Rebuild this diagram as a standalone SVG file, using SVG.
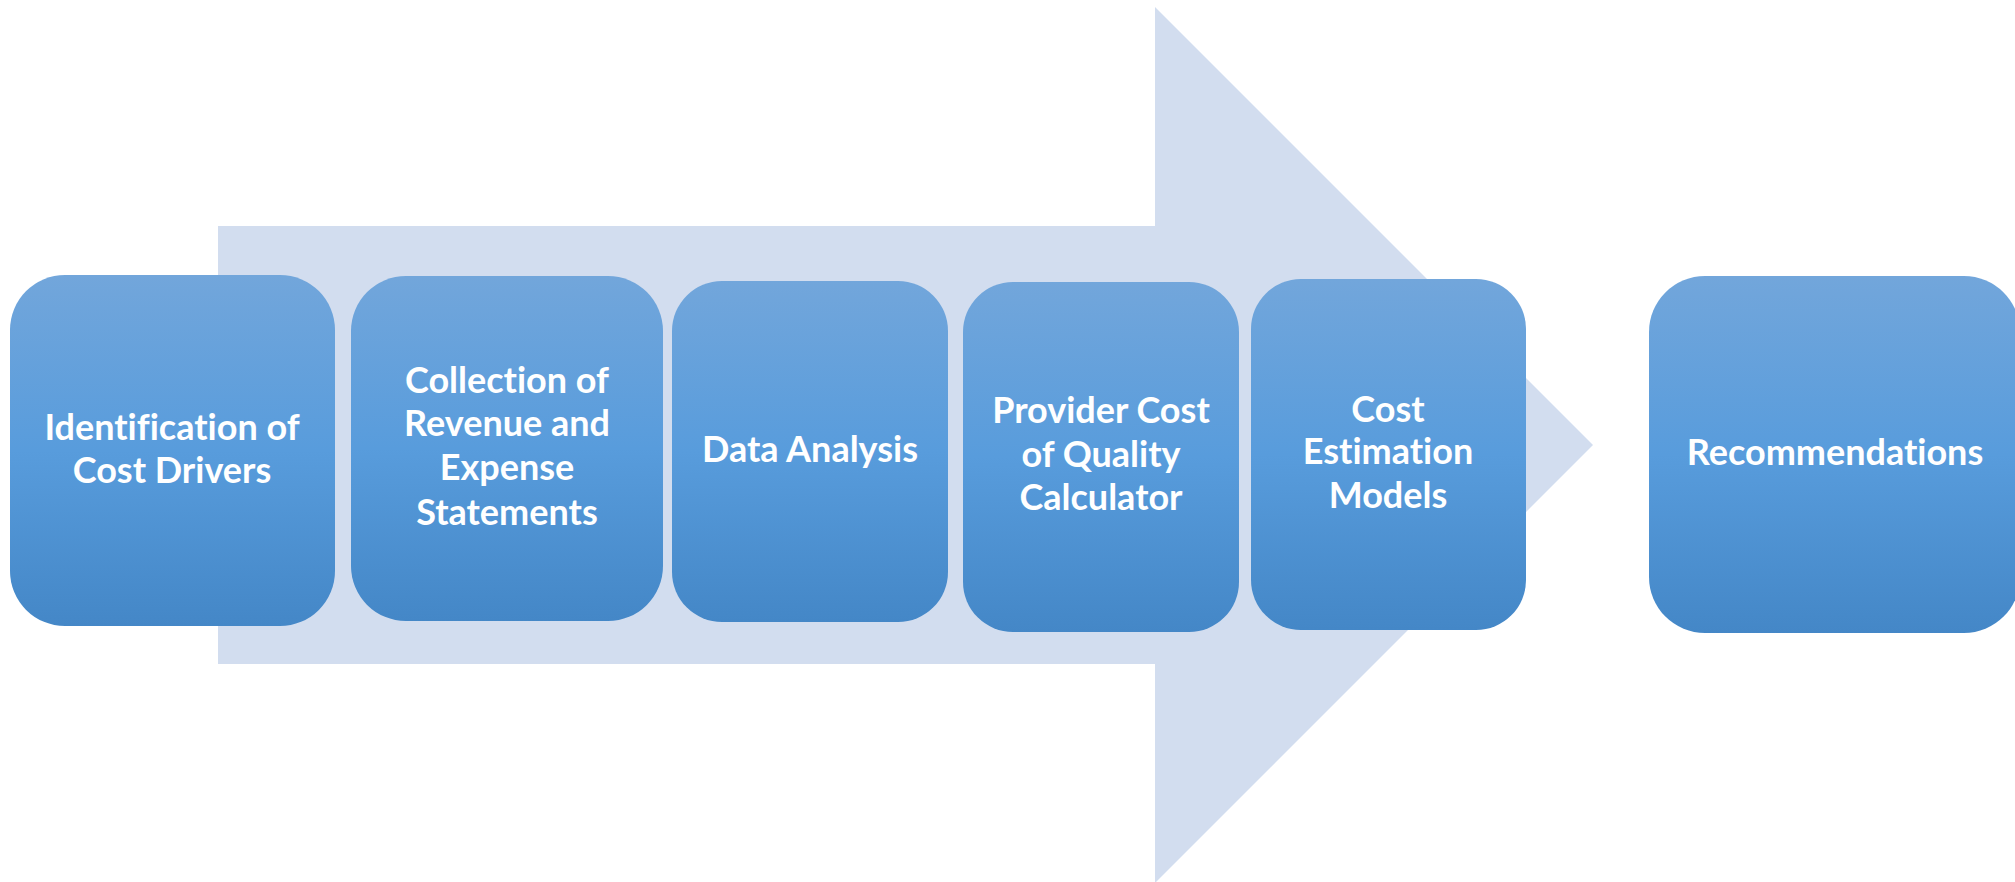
<svg xmlns="http://www.w3.org/2000/svg" width="2015" height="882" viewBox="0 0 2015 882">
  <defs>
    <linearGradient id="boxGrad" x1="0" y1="0" x2="0" y2="1">
      <stop offset="0" stop-color="#72A6DB"/>
      <stop offset="0.5" stop-color="#589CDC"/>
      <stop offset="1" stop-color="#4487C7"/>
    </linearGradient>
  </defs>
  <style>
    .box { fill: url(#boxGrad); }
    .lbl { font-family: Lato, "Open Sans", "Liberation Sans", sans-serif; font-weight: bold; font-size: 36px; fill: #FFFFFF; text-anchor: middle; font-variant-ligatures: none; }
    .arrow { fill: #D2DDEF; }
  </style>
  <rect width="2015" height="882" fill="#FFFFFF"/>
  <g id="connectors">
    <path class="arrow" d="M218,226 L1155,226 L1155,7 L1593,445 L1155,883 L1155,664 L218,664 Z"/>
  </g>
  <g id="node1">
    <rect class="box" x="10" y="275" width="325" height="351" rx="55" ry="55"/>
    <text class="lbl" x="172" y="440">Identification of</text>
    <text class="lbl" x="172" y="483">Cost Drivers</text>
  </g>
  <g id="node2">
    <rect class="box" x="351" y="276" width="312" height="345" rx="55" ry="55"/>
    <text class="lbl" x="507" y="393">Collection of</text>
    <text class="lbl" x="507" y="436">Revenue and</text>
    <text class="lbl" x="507" y="480">Expense</text>
    <text class="lbl" x="507" y="525">Statements</text>
  </g>
  <g id="node3">
    <rect class="box" x="672" y="281" width="276" height="341" rx="50" ry="50"/>
    <text class="lbl" x="810" y="462">Data Analysis</text>
  </g>
  <g id="node4">
    <rect class="box" x="963" y="282" width="276" height="350" rx="50" ry="50"/>
    <text class="lbl" x="1101" y="423">Provider Cost</text>
    <text class="lbl" x="1101" y="467">of Quality</text>
    <text class="lbl" x="1101" y="510">Calculator</text>
  </g>
  <g id="node5">
    <rect class="box" x="1251" y="279" width="275" height="351" rx="50" ry="50"/>
    <text class="lbl" x="1388" y="422">Cost</text>
    <text class="lbl" x="1388" y="464">Estimation</text>
    <text class="lbl" x="1388" y="508">Models</text>
  </g>
  <g id="node6">
    <rect class="box" x="1649" y="276" width="371" height="357" rx="56" ry="56"/>
    <text class="lbl" x="1835" y="465">Recommendations</text>
  </g>
</svg>
